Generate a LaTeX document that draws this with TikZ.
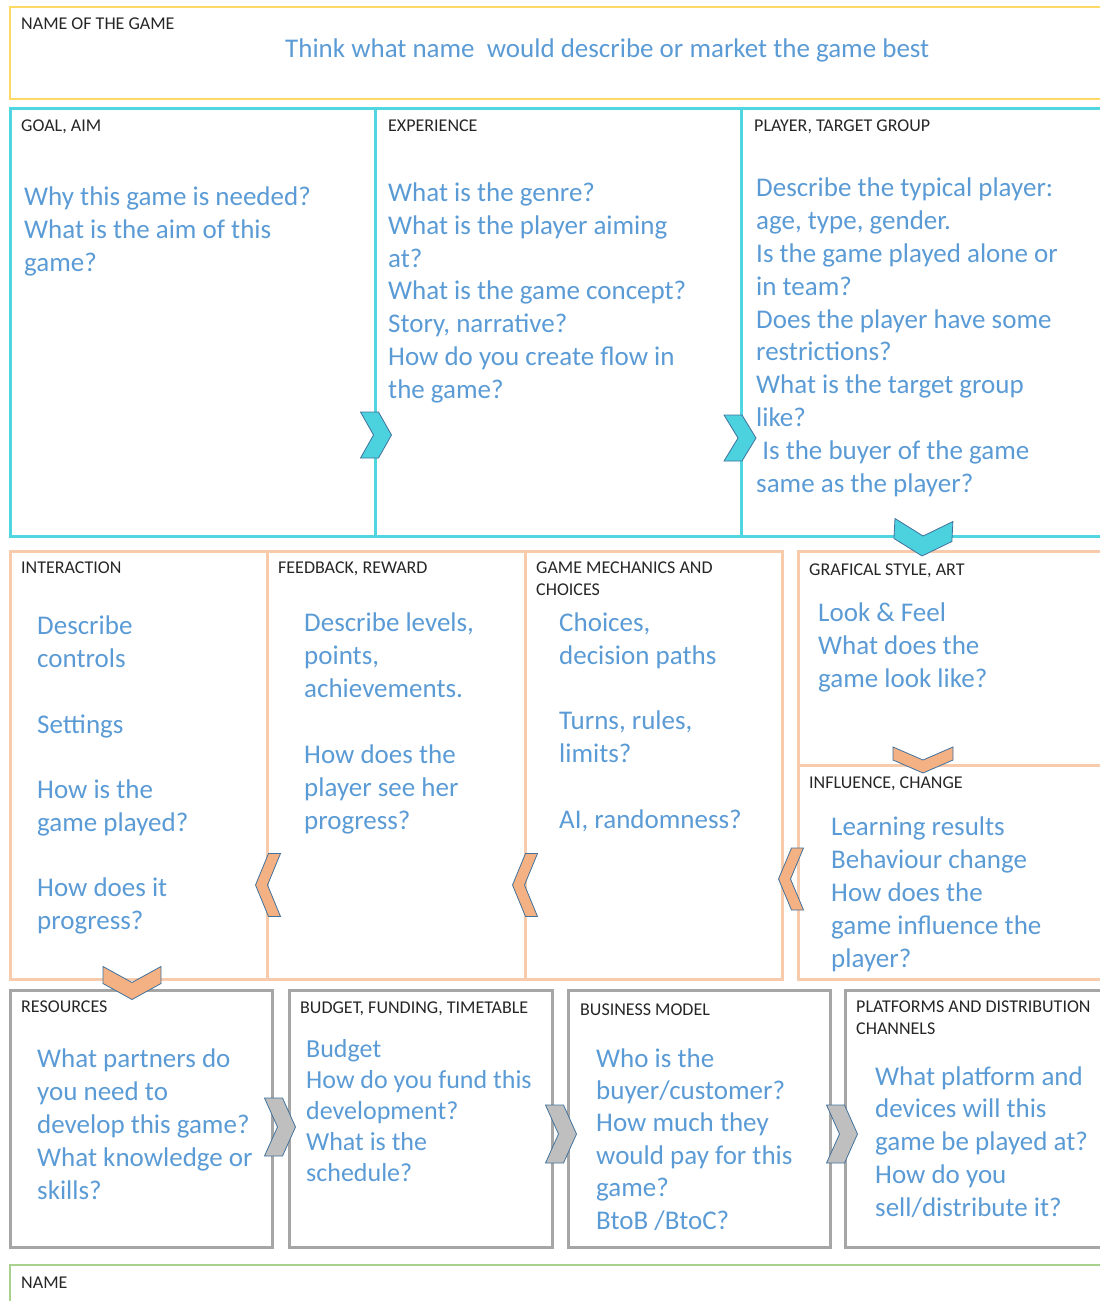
\documentclass[tikz,border=0pt]{standalone}
\usepackage{fontspec}
\setmainfont{Carlito}
\definecolor{qblue}{RGB}{91,155,213}
\definecolor{labelgray}{RGB}{38,38,38}
\definecolor{yellowline}{RGB}{255,217,102}
\definecolor{cyanline}{RGB}{80,214,224}
\definecolor{orangeline}{RGB}{248,203,173}
\definecolor{grayline}{RGB}{166,166,166}
\definecolor{greenline}{RGB}{169,209,142}
\definecolor{chevedge}{RGB}{65,113,156}
\definecolor{cyanfill}{RGB}{75,210,222}
\definecolor{orangefill}{RGB}{244,177,131}
\definecolor{grayfill}{RGB}{191,191,191}
% multi-line nodes are anchored at the baseline of their last line
\tikzset{
  lbl/.style={anchor=base west, inner sep=0pt, text=labelgray, align=left,
    font=\fontsize{18}{22}\selectfont},
  qtext/.style={anchor=base west, inner sep=0pt, text=qblue, align=left,
    font=\fontsize{27}{33}\selectfont},
  qsmall/.style={qtext, font=\fontsize{26}{30.8}\selectfont},
  chev/.style={draw=chevedge, line width=0.8pt, line join=miter},
  pics/chevron/.style n args={3}{code={%
    \path[pic actions] (-#1/2,-#2/2) -- (#1/2-#3,-#2/2) -- (#1/2,0)
      -- (#1/2-#3,#2/2) -- (-#1/2,#2/2) -- (-#1/2+#3,0) -- cycle;
  }},
}
\begin{document}
\begin{tikzpicture}[x=1pt,y=-1pt]
\useasboundingbox (0,0) rectangle (1100,1301);

% ---- frames ----
\draw[yellowline, line width=2pt] (10,7) rectangle (1112,99);
\draw[cyanline, line width=3pt] (10,108) rectangle (1112,536);
\draw[cyanline, line width=3pt] (375,108) -- (375,536) (741,108) -- (741,536);
\draw[orangeline, line width=3pt] (10,551) rectangle (267,979);
\draw[orangeline, line width=3pt] (267,551) rectangle (525,979);
\draw[orangeline, line width=3pt] (525,551) rectangle (782,979);
\draw[orangeline, line width=3pt] (798,551) rectangle (1112,765);
\draw[orangeline, line width=3pt] (798,765) rectangle (1112,979);
\draw[grayline, line width=3pt] (10,990) rectangle (272,1247);
\draw[grayline, line width=3pt] (289,990) rectangle (552,1247);
\draw[grayline, line width=3pt] (568,990) rectangle (830,1247);
\draw[grayline, line width=3pt] (845,990) rectangle (1112,1247);
\draw[greenline, line width=2pt] (10,1265) rectangle (1112,1320);

% ---- section labels ----
\node[lbl] (lname) at (21,29) {NAME OF THE GAME};
\node[lbl] (lgoal) at (21,131) {GOAL, AIM};
\node[lbl] (lexp) at (388,131) {EXPERIENCE};
\node[lbl] (lplayer) at (754,131) {PLAYER, TARGET GROUP};
\node[lbl] (linter) at (21,573) {INTERACTION};
\node[lbl] (lfeed) at (278,573) {FEEDBACK, REWARD};
\node[lbl] (lmech) at (536,595) {GAME MECHANICS AND\\CHOICES};
\node[lbl] (lart) at (809,575) {GRAFICAL STYLE, ART};
\node[lbl] (linfl) at (809,788) {INFLUENCE, CHANGE};
\node[lbl] (lres) at (21,1012) {RESOURCES};
\node[lbl] (lbudget) at (300,1013) {BUDGET, FUNDING, TIMETABLE};
\node[lbl] (lbiz) at (580,1015) {BUSINESS MODEL};
\node[lbl] (lplat) at (856,1034) {PLATFORMS AND DISTRIBUTION\\CHANNELS};
\node[lbl] (lbottom) at (21,1288) {NAME};

% ---- questions ----
\node[qtext] (tname) at (285,57) {Think what name\ \ would describe or market the game best};
\node[qtext] (tgoal) at (24,271) {Why this game is needed?\\What is the aim of this\\game?};
\node[qtext, font=\fontsize{27}{32.7}\selectfont] (texp) at (388,398) {What is the genre?\\What is the player aiming\\at?\\What is the game concept?\\Story, narrative?\\How do you create flow in\\the game?};
\node[qtext, font=\fontsize{27}{32.8}\selectfont] (tplayer) at (756,492) {Describe the typical player:\\age, type, gender.\\Is the game played alone or\\in team?\\Does the player have some\\restrictions?\\What is the target group\\like?\\\ Is the buyer of the game\\same as the player?};
\node[qtext] (tinter) at (37,929) {Describe\\controls\\[33pt]Settings\\[32pt]How is the\\game played?\\[32pt]How does it\\progress?};
\node[qtext] (tfeed) at (304,829) {Describe levels,\\points,\\achievements.\\[33pt]How does the\\player see her\\progress?};
\node[qtext] (tmech) at (559,828) {Choices,\\decision paths\\[32pt]Turns, rules,\\limits?\\[33pt]AI, randomness?};
\node[qtext] (tart) at (818,687) {Look \& Feel\\What does the\\game look like?};
\node[qtext] (tinfl) at (831,967) {Learning results\\Behaviour change\\How does the\\game influence the\\player?};
\node[qtext] (tres) at (37,1199) {What partners do\\you need to\\develop this game?\\What knowledge or\\skills?};
\node[qsmall] (tbudget) at (306,1181) {Budget\\How do you fund this\\development?\\What is the\\schedule?};
\node[qtext, font=\fontsize{27}{32.4}\selectfont] (tbiz) at (596,1229) {Who is the\\buyer/customer?\\How much they\\would pay for this\\game?\\BtoB /BtoC?};
\node[qtext, font=\fontsize{27}{32.7}\selectfont] (tplat) at (875,1216) {What platform and\\devices will this\\game be played at?\\How do you\\sell/distribute it?};

% ---- chevrons ----
\pic[chev, fill=cyanfill] (c1) at (376,435) {chevron={31}{46}{13}};
\pic[chev, fill=cyanfill] (c2) at (740,438) {chevron={32}{46}{14}};
\pic[chev, fill=cyanfill, rotate=-93] (c3) at (923,538) {chevron={36}{58}{16}};
\pic[chev, fill=orangefill, rotate=180] (o1) at (268,885) {chevron={25}{63}{13}};
\pic[chev, fill=orangefill, rotate=180] (o2) at (525,885) {chevron={25}{63}{13}};
\pic[chev, fill=orangefill, rotate=180] (o3) at (791,879) {chevron={25}{62}{13}};
\pic[chev, fill=orangefill, rotate=-90] (o4) at (923,760) {chevron={26}{60}{13}};
\pic[chev, fill=orangefill, rotate=-90] (o5) at (132,983) {chevron={33}{58}{16}};
\pic[chev, fill=grayfill] (g1) at (280,1127) {chevron={31}{58}{13}};
\pic[chev, fill=grayfill] (g2) at (561,1134) {chevron={31}{58}{13}};
\pic[chev, fill=grayfill] (g3) at (842,1134) {chevron={31}{58}{13}};
\end{tikzpicture}
\end{document}
